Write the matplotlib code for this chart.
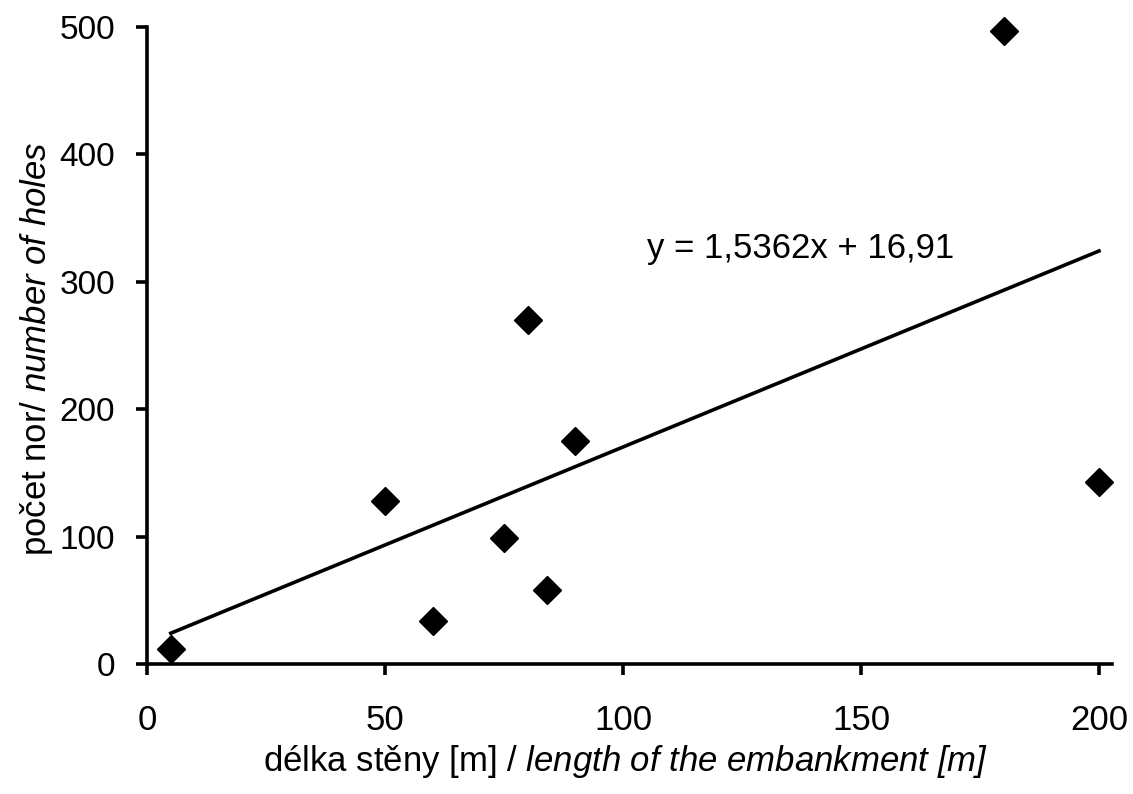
import matplotlib
matplotlib.use('Agg')
import matplotlib.pyplot as plt
import numpy as np

plt.rcParams['font.family'] = ['Liberation Sans', 'DejaVu Sans']
plt.rcParams['mathtext.fontset'] = 'custom'
# math parts are only used for the italic English halves of the labels
plt.rcParams['mathtext.rm'] = 'Liberation Sans:italic'
plt.rcParams['mathtext.it'] = 'Liberation Sans:italic'

# delka steny [m] / pocet nor
wall_length = [5, 50, 60, 75, 80, 84, 90, 180, 200]
hole_count = [12, 128, 34, 99, 270, 58, 175, 497, 143]
equation_text = 'y = 1,5362x + 16,91'
x_ticks = [0, 50, 100, 150, 200]
y_ticks = [0, 100, 200, 300, 400, 500]

fig = plt.figure(figsize=(11.33, 7.94), dpi=100)
ax = fig.add_axes([147/1133, 1-664/794, (1112-147)/1133, (664-27)/794])

ax.plot(wall_length, hole_count, linestyle='none', marker='D', markersize=14,
        color='black', zorder=3, clip_on=False)

# linear trend line
k, q = np.polyfit(wall_length, hole_count, 1)
xs = np.array([min(wall_length), max(wall_length)])
ax.plot(xs, k*xs + q, color='black', linewidth=2.6, zorder=2)
ax.text(105, 326, equation_text, fontsize=25, va='center', ha='left')

ax.set_xlim(0, 200*(1112-147)/(1099-147))
ax.set_ylim(0, 500)
ax.set_xticks(x_ticks)
ax.set_yticks(y_ticks)
ax.spines['top'].set_visible(False)
ax.spines['right'].set_visible(False)
ax.spines['left'].set_linewidth(2.6)
ax.spines['bottom'].set_linewidth(2.6)
ax.tick_params(axis='both', direction='out', length=8, width=2.6)
ax.tick_params(axis='x', pad=21, labelsize=25)
ax.tick_params(axis='y', pad=15, labelsize=24)

fig.text(626/1133, 1-762/794,
         r'délka stěny [m] / $length\ of\ the\ embankment\ [m]$',
         fontsize=25, ha='center', va='center')
fig.text(37/1133, 1-349/794, r'počet nor/ $number\ of\ holes$',
         fontsize=25, ha='center', va='center', rotation=90)

plt.savefig('out.png', dpi=100)
